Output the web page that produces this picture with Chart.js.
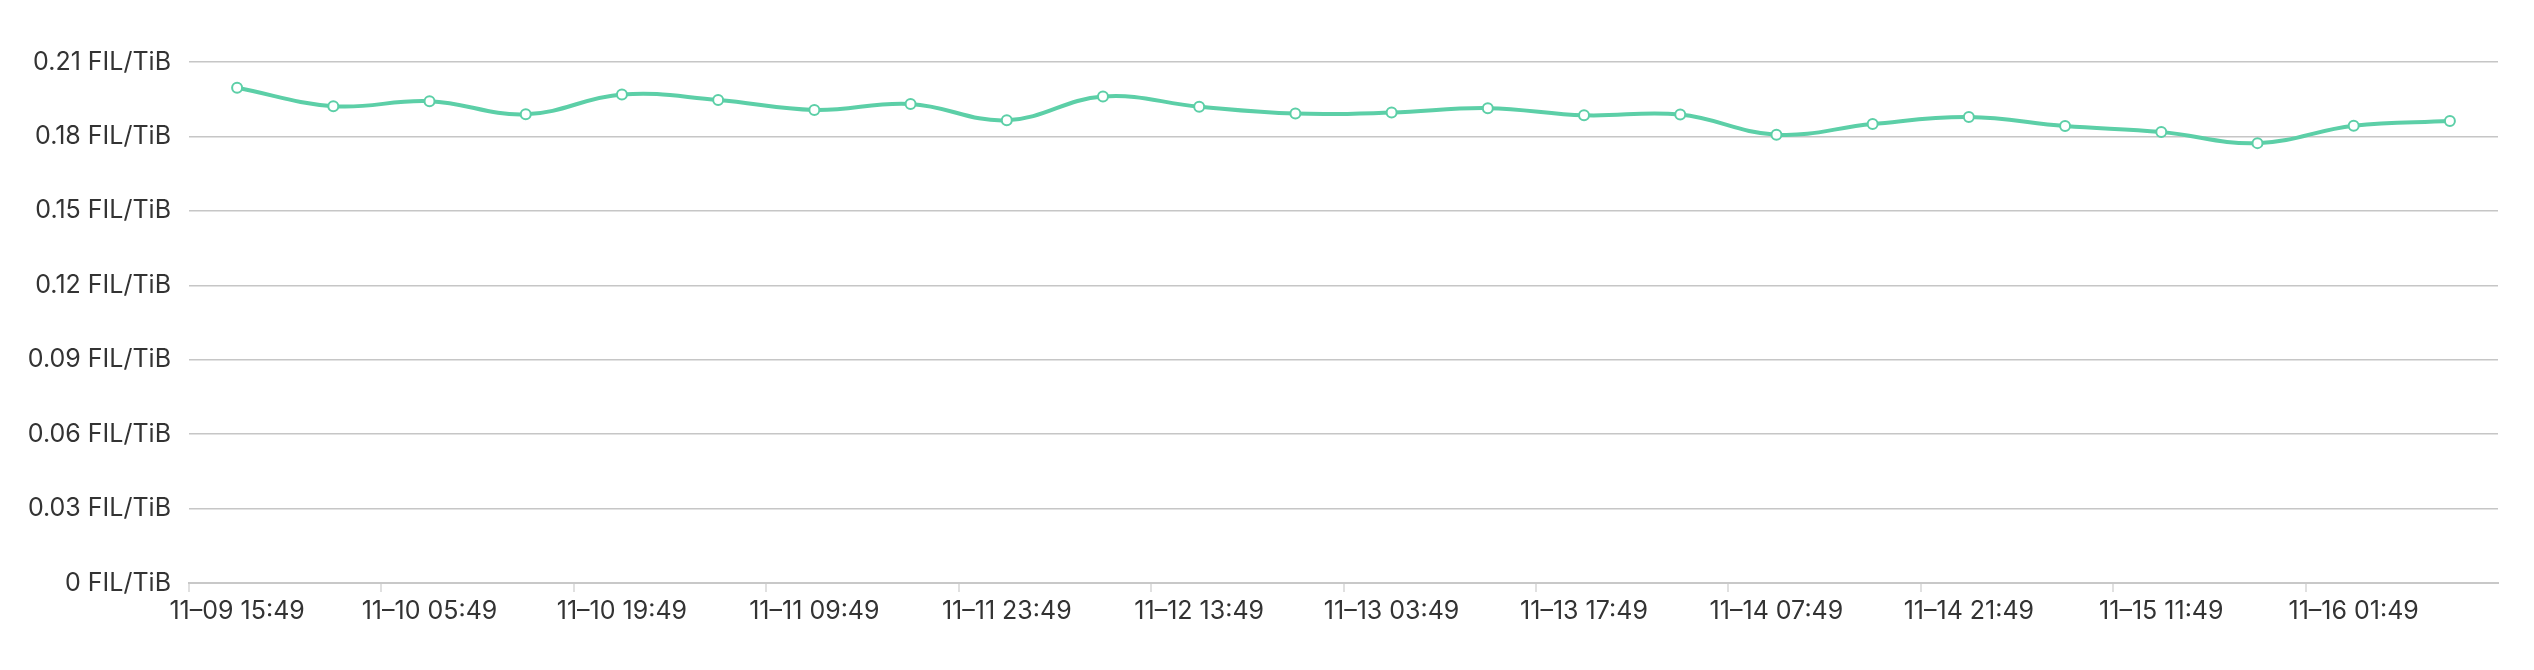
<!DOCTYPE html>
<html><head><meta charset="utf-8">
<script src="https://cdn.jsdelivr.net/npm/chart.js@4.4.1/dist/chart.umd.min.js"></script>
<style>html,body{margin:0;padding:0;background:#fff;overflow:hidden}</style>
</head><body>
<canvas id="c" width="2534" height="670" style="display:block;width:2534px;height:670px"></canvas>
<script>
const categories = ['11–09 15:49','11–09 22:49','11–10 05:49','11–10 12:49','11–10 19:49','11–11 02:49','11–11 09:49','11–11 16:49','11–11 23:49','11–12 06:49','11–12 13:49','11–12 20:49','11–13 03:49','11–13 10:49','11–13 17:49','11–14 00:49','11–14 07:49','11–14 14:49','11–14 21:49','11–15 04:49','11–15 11:49','11–15 18:49','11–16 01:49','11–16 08:49'];
const values = [0.1996,0.1922,0.1942,0.1889,0.1969,0.1947,0.1907,0.1931,0.1865,0.1961,0.1920,0.1892,0.1896,0.1914,0.1885,0.1888,0.1807,0.1850,0.1878,0.1842,0.1818,0.1773,0.1843,0.1862];
const yTickValues = [0,0.03,0.06,0.09,0.12,0.15,0.18,0.21];
const yTickLabels = ['0 FIL/TiB','0.03 FIL/TiB','0.06 FIL/TiB','0.09 FIL/TiB','0.12 FIL/TiB','0.15 FIL/TiB','0.18 FIL/TiB','0.21 FIL/TiB'];

const FONT = 'Inter, "Noto Sans", sans-serif';
const GREEN = '#5ccfa7';

new Chart(document.getElementById('c'), {
  type: 'line',
  data: {
    labels: categories,
    datasets: [{
      data: values,
      borderColor: GREEN,
      borderWidth: 4,
      tension: 0.4,
      fill: false,
      pointRadius: 5,
      pointBorderWidth: 2,
      pointBackgroundColor: '#ffffff',
      pointBorderColor: GREEN
    }]
  },
  options: {
    responsive: false,
    animation: false,
    devicePixelRatio: 1,
    layout: { padding: { top: 62, right: 36, bottom: 0, left: 0 } },
    plugins: { legend: { display: false }, tooltip: { enabled: false } },
    scales: {
      x: {
        type: 'category',
        offset: true,
        afterFit: s => { s.height = 87; },
        grid: {
          offset: true,
          drawOnChartArea: false,
          drawTicks: true,
          tickLength: 9,
          lineWidth: 2,
          color: ctx => (ctx.index % 2 === 0 ? '#e0e0e0' : 'rgba(0,0,0,0)')
        },
        border: { display: true, color: '#c8c8c8', width: 2 },
        ticks: {
          autoSkip: false,
          maxRotation: 0,
          minRotation: 0,
          padding: 4,
          color: '#333333',
          font: { family: FONT, size: 25 },
          callback: (v, i) => (i % 2 === 0 ? categories[i] : '')
        }
      },
      y: {
        min: 0,
        max: 0.21,
        afterFit: s => { s.width = 189; },
        afterBuildTicks: s => { s.ticks = yTickValues.map(v => ({ value: v })); },
        grid: { color: '#c6c6c6', lineWidth: 1.5, drawTicks: false },
        border: { display: false },
        ticks: {
          padding: 18,
          color: '#333333',
          font: { family: FONT, size: 25 },
          callback: (v, i) => yTickLabels[i]
        }
      }
    }
  }
});
</script>
</body></html>
